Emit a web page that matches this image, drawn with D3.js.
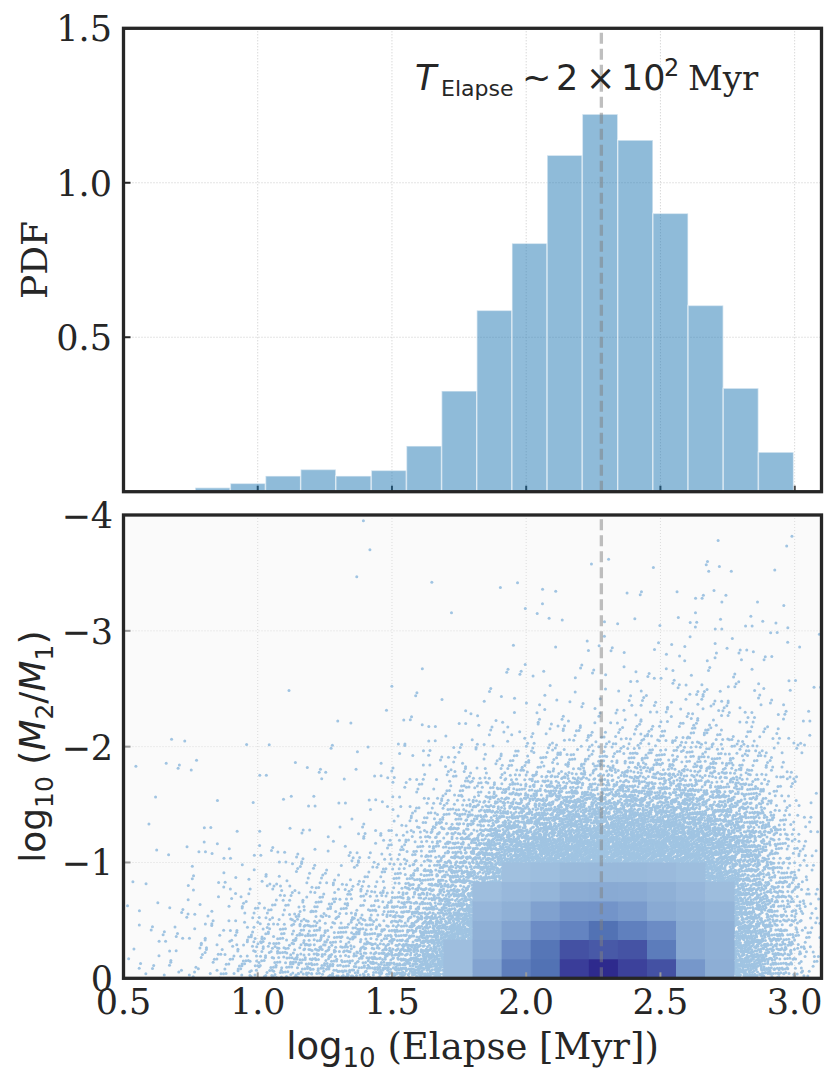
<!DOCTYPE html>
<html><head><meta charset="utf-8">
<script src="https://cdn.jsdelivr.net/npm/d3@7"></script>
<style>html,body{margin:0;padding:0;background:#fff;}</style>
</head><body>
<svg id="chart" width="836" height="1085"></svg>
<script>
// ---------------- DATA ----------------
// Top panel histogram (PDF of log10 elapse time)
const binEdges = [0.767, 0.898, 1.029, 1.160, 1.291, 1.423, 1.554, 1.685, 1.816, 1.947,
                  2.078, 2.209, 2.341, 2.472, 2.603, 2.734, 2.865, 2.996];
const pdfValues = [0.013, 0.027, 0.051, 0.072, 0.051, 0.069, 0.148, 0.326, 0.587, 0.804,
                   1.089, 1.222, 1.138, 0.901, 0.603, 0.335, 0.128];
const medianLogElapse = 2.28;

const xTicks = [0.5, 1.0, 1.5, 2.0, 2.5, 3.0];
const xTickLabels = ["0.5", "1.0", "1.5", "2.0", "2.5", "3.0"];
const pdfTicks = [0.5, 1.0, 1.5];
const pdfTickLabels = ["0.5", "1.0", "1.5"];
const qTicks = [0, -1, -2, -3, -4];
const qTickLabels = ["0", "\u22121", "\u22122", "\u22123", "\u22124"];

// Bottom panel scatter: estimated number of points per cell.
// Columns: 24 bins of log10(Elapse) from 0.5 to 3.1; rows: 16 bins of log10(M2/M1) from 0 to -4 (step 0.25)
const scatterXEdges = [0.5, 3.1];
const scatterYEdges = [0, -4];
const scatterCounts = [
  [7,4,2,1,0,1,0,1,0,0,0,0,0,0,0,0],
  [8,6,4,2,2,0,1,2,1,0,0,0,0,0,0,0],
  [12,8,6,3,5,1,0,3,1,0,0,0,0,0,0,0],
  [25,15,10,5,4,1,0,0,0,0,0,0,0,0,0,0],
  [40,25,15,8,4,1,1,1,1,0,0,0,0,0,0,0],
  [60,40,25,12,4,2,2,1,0,0,0,0,0,0,0,0],
  [80,60,30,15,4,3,3,4,0,1,0,0,0,0,0,0],
  [80,55,30,15,6,3,3,3,1,0,0,0,0,0,1,0],
  [90,60,35,20,10,5,3,3,2,0,0,0,0,0,1,1],
  [140,100,65,38,22,15,8,5,4,3,0,0,0,0,0,0],
  [230,170,110,75,45,30,15,10,5,2,1,0,0,1,0,0],
  [320,260,180,120,95,60,25,10,4,2,0,0,1,0,0,0],
  [450,380,260,190,165,100,45,15,6,5,1,0,0,0,0,0],
  [650,520,350,260,230,135,63,22,8,5,3,1,0,2,0,0],
  [850,650,450,320,290,170,80,28,10,5,2,2,4,1,0,0],
  [1050,780,520,370,330,195,92,33,15,5,3,0,1,1,0,0],
  [1050,800,540,380,340,205,98,38,15,5,4,4,1,1,2,0],
  [950,750,520,370,340,205,104,44,18,10,5,3,2,1,0,0],
  [800,640,460,340,330,205,110,44,20,10,4,3,2,2,0,1],
  [560,460,350,280,290,180,104,48,22,12,7,7,4,1,2,0],
  [400,340,280,230,240,160,92,44,20,12,7,5,3,3,3,0],
  [230,210,180,150,150,110,65,32,18,10,5,3,4,1,0,0],
  [110,100,90,70,55,35,25,15,12,6,3,5,3,0,3,0],
  [20,25,20,15,12,10,6,4,3,3,2,1,1,0,0,0]
];

// 2D histogram overlay (24x24 bins over the axes), only dense cells are drawn.
const hist2dNx = 24, hist2dNy = 24;
const hist2dFirstCol = 11;
// rows from y=0 upward (each 1/6 dex); columns 11..20
const hist2dCounts = [
  [110, 260, 440, 500, 700, 800, 680, 610, 320, 210],
  [110, 220, 370, 480, 610, 580, 600, 450, 230, 200],
  [null, 200, 260, 370, 410, 500, 430, 370, 230, 200],
  [null, 160, 200, 270, 330, 335, 300, 230, 200, 170],
  [null, 110, 150, 170, 220, 230, 225, 200, 160, 120],
  [null, null, 100, 115, 140, 145, 145, 135, 115, null]
];
const densityStops = [100, 200, 300, 400, 500, 600, 700, 800];
const densityColors = ["#a0c0df","#8fb0d6","#7a9bcc","#6686c2","#5272b4","#4553a4","#3a3d99","#2e2a8d"];

// ---------------- LAYOUT ----------------
const svg = d3.select("#chart");
const L = 123.5, R = 821.5;
const topP = {t: 28.3, b: 491.7};
const botP = {t: 515, b: 978.3};
const serif = "DejaVu Serif", sans = "DejaVu Sans";
const tickFs = 35, labFs = 36;
const ink = "#262626";

const x = d3.scaleLinear().domain([0.5, 3.1]).range([L, R]);
const yTop = d3.scaleLinear().domain([0, 1.5]).range([topP.b, topP.t]);
const yBot = d3.scaleLinear().domain([0, -4]).range([botP.b, botP.t]);

svg.append("rect").attr("width", 836).attr("height", 1085).attr("fill", "#fff");

// ===== TOP PANEL =====
const gT = svg.append("g");
gT.selectAll("line.gx").data(xTicks.slice(1)).join("line")
  .attr("x1", d => x(d)).attr("x2", d => x(d)).attr("y1", topP.t).attr("y2", topP.b)
  .attr("stroke", "#c8c8c8").attr("stroke-width", 1).attr("stroke-dasharray", "1,2");
gT.selectAll("line.gy").data(pdfTicks.slice(0, 2)).join("line")
  .attr("x1", L).attr("x2", R).attr("y1", d => yTop(d)).attr("y2", d => yTop(d))
  .attr("stroke", "#c8c8c8").attr("stroke-width", 1).attr("stroke-dasharray", "1,2");
gT.selectAll("line.tx").data(xTicks).join("line")
  .attr("x1", d => x(d)).attr("x2", d => x(d)).attr("y1", topP.b).attr("y2", topP.b - 6)
  .attr("stroke", ink).attr("stroke-width", 2);
gT.selectAll("line.ty").data(pdfTicks).join("line")
  .attr("x1", L).attr("x2", L + 7).attr("y1", d => yTop(d)).attr("y2", d => yTop(d))
  .attr("stroke", ink).attr("stroke-width", 2);
const bars = pdfValues.map((v, i) => ({x0: binEdges[i], x1: binEdges[i + 1], v}));
gT.selectAll("rect.bar").data(bars).join("rect")
  .attr("x", d => x(d.x0)).attr("width", d => x(d.x1) - x(d.x0))
  .attr("y", d => yTop(d.v)).attr("height", d => yTop(0) - yTop(d.v))
  .attr("fill", "#1f77b4").attr("fill-opacity", 0.5)
  .attr("stroke", "#fff").attr("stroke-opacity", 0.5).attr("stroke-width", 1.5);
gT.append("line").attr("x1", x(medianLogElapse)).attr("x2", x(medianLogElapse))
  .attr("y1", topP.b).attr("y2", topP.t)
  .attr("stroke", "#808080").attr("stroke-opacity", 0.5).attr("stroke-width", 3.3)
  .attr("stroke-dasharray", "11,5");
gT.append("rect").attr("x", L).attr("y", topP.t).attr("width", R - L).attr("height", topP.b - topP.t)
  .attr("fill", "none").attr("stroke", ink).attr("stroke-width", 3.3);
gT.selectAll("text.tl").data(pdfTicks).join("text")
  .attr("x", 112).attr("y", d => yTop(d) + 13).attr("text-anchor", "end")
  .attr("font-family", serif).attr("font-size", tickFs).attr("fill", ink)
  .text((d, i) => pdfTickLabels[i]);
svg.append("text").attr("transform", `translate(47,${(topP.t + topP.b) / 2}) rotate(-90)`)
  .attr("text-anchor", "middle").attr("font-family", serif).attr("font-size", labFs)
  .attr("fill", ink).text("PDF");

// annotation (pieces positioned like the mathtext layout)
const ann = svg.append("text").attr("y", 90).attr("font-size", 35)
  .attr("fill", ink).attr("font-family", sans);
ann.append("tspan").attr("x", 415).attr("font-style", "italic").text("T");
ann.append("tspan").attr("x", 441).attr("font-size", 22).attr("dy", 6).text("Elapse");
ann.append("tspan").attr("x", 522).attr("dy", -6).text("~");
ann.append("tspan").attr("x", 556).text("2");
ann.append("tspan").attr("x", 586).text("\u00d7");
ann.append("tspan").attr("x", 621).text("10");
ann.append("tspan").attr("x", 664).attr("font-size", 24).attr("dy", -14).text("2");
ann.append("tspan").attr("x", 688).attr("dy", 14).attr("font-size", 34).attr("font-family", serif).text("Myr");

// ===== BOTTOM PANEL =====
const gB = svg.append("g");
gB.append("rect").attr("x", L).attr("y", botP.t).attr("width", R - L).attr("height", botP.b - botP.t)
  .attr("fill", "#fafafa");
svg.append("clipPath").attr("id", "clipB").append("rect")
  .attr("x", L).attr("y", botP.t).attr("width", R - L).attr("height", botP.b - botP.t);
gB.selectAll("line.gx").data(xTicks.slice(1)).join("line")
  .attr("x1", d => x(d)).attr("x2", d => x(d)).attr("y1", botP.t).attr("y2", botP.b)
  .attr("stroke", "#dcdcdc").attr("stroke-width", 1).attr("stroke-dasharray", "1,2");
gB.selectAll("line.gy").data([-1, -2, -3]).join("line")
  .attr("x1", L).attr("x2", R).attr("y1", d => yBot(d)).attr("y2", d => yBot(d))
  .attr("stroke", "#dcdcdc").attr("stroke-width", 1).attr("stroke-dasharray", "1,2");

// scatter points: each cell's points spread with a deterministic quasi-random
// (4-D additive recurrence) triangular kernel so the density varies smoothly
const nCols = scatterCounts.length, nRows = scatterCounts[0].length;
const dxCell = (scatterXEdges[1] - scatterXEdges[0]) / nCols;
const dyCell = (scatterYEdges[1] - scatterYEdges[0]) / nRows;
const g4 = 1.1673039782614187;
const b1 = 1 / g4, b2 = 1 / (g4 * g4), b3 = 1 / (g4 ** 3), b4 = 1 / (g4 ** 4);
const fr = t => t - Math.floor(t);
const pts = [];
scatterCounts.forEach((col, c) => {
  col.forEach((n, k) => {
    const s = c * 1733 + k * 257 + 11;
    for (let i = 0; i < n; i++) {
      const t = i + s;
      const u = fr(0.5 + t * b1) + fr(0.5 + t * b2) - 0.5;
      const v = fr(0.5 + t * b3) + fr(0.5 + t * b4) - 0.5;
      let yy = scatterYEdges[0] + (k + v) * dyCell;
      if (yy > 0) yy = -yy;
      pts.push([scatterXEdges[0] + (c + u) * dxCell, yy]);
    }
  });
});
const gS = gB.append("g").attr("clip-path", "url(#clipB)");
gS.selectAll("circle").data(pts).join("circle")
  .attr("cx", d => x(d[0])).attr("cy", d => yBot(d[1])).attr("r", 1.5)
  .attr("fill", "#a0c4e2");

const color = d3.scaleLinear().domain(densityStops).range(densityColors).clamp(true);
const hx = (3.1 - 0.5) / hist2dNx, hy = 4 / hist2dNy;
const cells = [];
hist2dCounts.forEach((row, r) => row.forEach((v, j) => {
  if (v != null) cells.push({c: hist2dFirstCol + j, r, v});
}));
gB.selectAll("rect.cell").data(cells).join("rect")
  .attr("x", d => x(0.5 + d.c * hx)).attr("width", d => x(0.5 + (d.c + 1) * hx) - x(0.5 + d.c * hx) + 0.3)
  .attr("y", d => yBot(-(d.r + 1) * hy)).attr("height", d => yBot(-d.r * hy) - yBot(-(d.r + 1) * hy) + 0.3)
  .attr("fill", d => color(d.v));

gB.selectAll("line.tx").data(xTicks).join("line")
  .attr("x1", d => x(d)).attr("x2", d => x(d)).attr("y1", botP.b).attr("y2", botP.b - 6)
  .attr("stroke", "#9a9a9a").attr("stroke-width", 2);
gB.selectAll("line.ty").data(qTicks).join("line")
  .attr("x1", L).attr("x2", L + 7).attr("y1", d => yBot(d)).attr("y2", d => yBot(d))
  .attr("stroke", "#9a9a9a").attr("stroke-width", 2);
gB.append("line").attr("x1", x(medianLogElapse)).attr("x2", x(medianLogElapse))
  .attr("y1", botP.b).attr("y2", botP.t)
  .attr("stroke", "#808080").attr("stroke-opacity", 0.5).attr("stroke-width", 3.3)
  .attr("stroke-dasharray", "11,5");
gB.append("rect").attr("x", L).attr("y", botP.t).attr("width", R - L).attr("height", botP.b - botP.t)
  .attr("fill", "none").attr("stroke", ink).attr("stroke-width", 3.3);

gB.selectAll("text.ty").data(qTicks).join("text")
  .attr("x", 113).attr("y", d => yBot(d) + 13).attr("text-anchor", "end")
  .attr("font-family", serif).attr("font-size", tickFs).attr("fill", ink)
  .text((d, i) => qTickLabels[i]);
gB.selectAll("text.tx").data(xTicks).join("text")
  .attr("x", d => x(d)).attr("y", 1014).attr("text-anchor", "middle")
  .attr("font-family", serif).attr("font-size", tickFs).attr("fill", ink)
  .text((d, i) => xTickLabels[i]);

const xl = svg.append("text").attr("x", x(1.8)).attr("y", 1059).attr("text-anchor", "middle")
  .attr("font-size", 37).attr("fill", ink).attr("font-family", sans);
xl.append("tspan").text("log");
xl.append("tspan").attr("font-size", 26).attr("dy", 8).text("10");
xl.append("tspan").attr("dy", -8).attr("font-family", serif).text("\u00a0(Elapse [Myr])");
const yl = svg.append("text").attr("transform", `translate(45,${(botP.t + botP.b) / 2}) rotate(-90)`)
  .attr("text-anchor", "middle").attr("font-size", labFs).attr("fill", ink).attr("font-family", sans);
yl.append("tspan").text("log");
yl.append("tspan").attr("font-size", 25).attr("dy", 8).text("10");
yl.append("tspan").attr("dy", -8).text("\u00a0(");
yl.append("tspan").attr("font-style", "italic").text("M");
yl.append("tspan").attr("font-size", 25).attr("dy", 8).text("2");
yl.append("tspan").attr("dy", -8).text("/");
yl.append("tspan").attr("font-style", "italic").text("M");
yl.append("tspan").attr("font-size", 25).attr("dy", 8).text("1");
yl.append("tspan").attr("dy", -8).text(")");
</script>
</body></html>
